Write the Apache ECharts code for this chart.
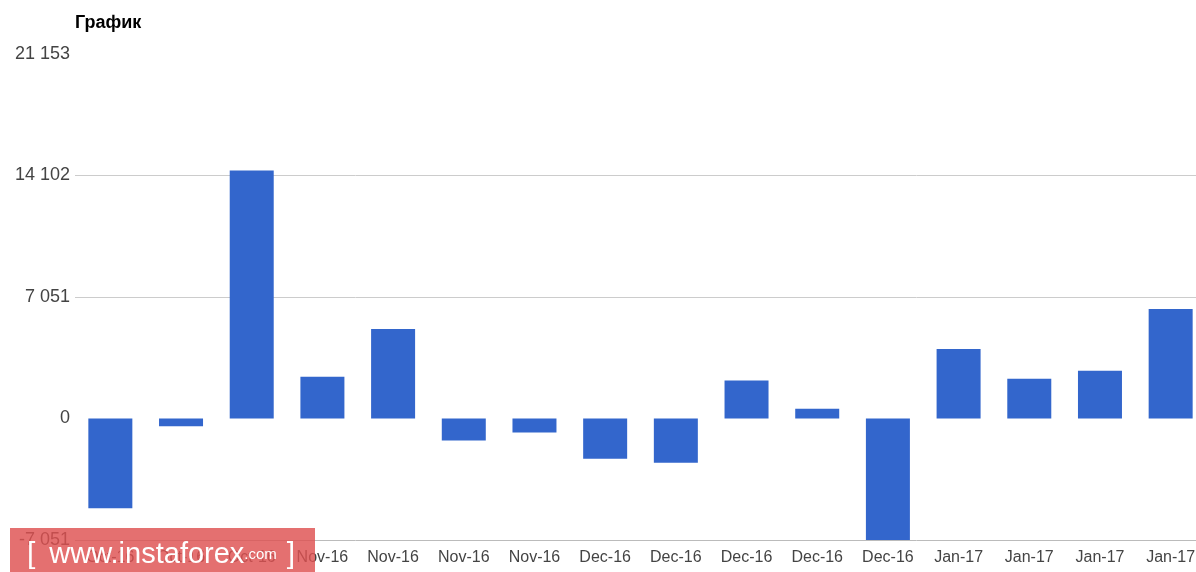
<!DOCTYPE html>
<html>
<head>
<meta charset="utf-8">
<script src="https://cdn.jsdelivr.net/npm/echarts@6/dist/echarts.min.js"></script>
<style>
  html, body { margin: 0; padding: 0; background: #fff; }
  #main { width: 1196px; height: 572px; }
</style>
</head>
<body>
<div id="main"></div>
<script>
var myChart = echarts.init(document.getElementById('main'));

// weekly periods
var weeks = ['Oct-16', 'Oct-16', 'Oct-16', 'Nov-16', 'Nov-16', 'Nov-16', 'Nov-16',
        'Dec-16', 'Dec-16', 'Dec-16', 'Dec-16', 'Dec-16',
        'Jan-17', 'Jan-17', 'Jan-17', 'Jan-17'];

// values
var values = [-5215, -450, 14386, 2416, 5197, -1275, -811, -2335, -2567,
        2202, 562, -7051, 4038, 2300, 2764, 6356];

var yMin = -7051, yMax = 21153, yStep = 7051;

var font = 'Liberation Sans, Arial, sans-serif';

function fmt(v) {
    var s = String(Math.abs(v)).replace(/\B(?=(\d{3})+(?!\d))/g, ' ');
    return (v < 0 ? '-' : '') + s;
}

option = {
    animation: false,
    title: {
        text: 'График',
        left: 70,
        top: 9,
        textStyle: {
            fontFamily: font,
            fontSize: 18,
            fontWeight: 'bold',
            color: '#000'
        }
    },
    grid: {
        left: 75,
        width: 1131,
        top: 54,
        bottom: 32,
        outerBoundsMode: 'none'
    },
    xAxis: {
        type: 'category',
        data: weeks,
        axisLine: { show: false },
        axisTick: { show: false },
        axisLabel: {
            margin: 10,
            interval: 0,
            color: '#444',
            fontSize: 16,
            fontFamily: font
        }
    },
    yAxis: {
        type: 'value',
        min: yMin,
        max: yMax,
        interval: yStep,
        axisLine: { show: false },
        axisTick: { show: false },
        axisLabel: {
            margin: 5,
            color: '#444',
            fontSize: 18,
            fontFamily: font,
            formatter: fmt
        },
        splitLine: {
            lineStyle: {
                color: ['#bbb', 'rgba(0,0,0,0)', '#ccc', '#ccc', 'rgba(0,0,0,0)'],
                width: 1
            }
        }
    },
    series: [{
        type: 'bar',
        data: values,
        barWidth: 44,
        itemStyle: { color: '#3366cc' }
    }],
    graphic: [{
        type: 'rect',
        left: 10,
        top: 528,
        z: 100,
        shape: { width: 305, height: 44 },
        style: { fill: 'rgba(222,80,80,0.82)' }
    }, {
        type: 'text',
        left: 27,
        top: 540,
        z: 101,
        style: {
            text: '{b|[}{w|www.instaforex}{c|.com}{e|]}',
            rich: {
                b: { fill: '#fff', fontSize: 30, fontFamily: font, padding: [0, 14, 0, 0] },
                w: { fill: '#fff', fontSize: 29, fontFamily: font },
                c: { fill: '#fff', fontSize: 15, fontFamily: font },
                e: { fill: '#fff', fontSize: 30, fontFamily: font, padding: [0, 0, 0, 10] }
            }
        }
    }]
};

myChart.setOption(option);
</script>
</body>
</html>
